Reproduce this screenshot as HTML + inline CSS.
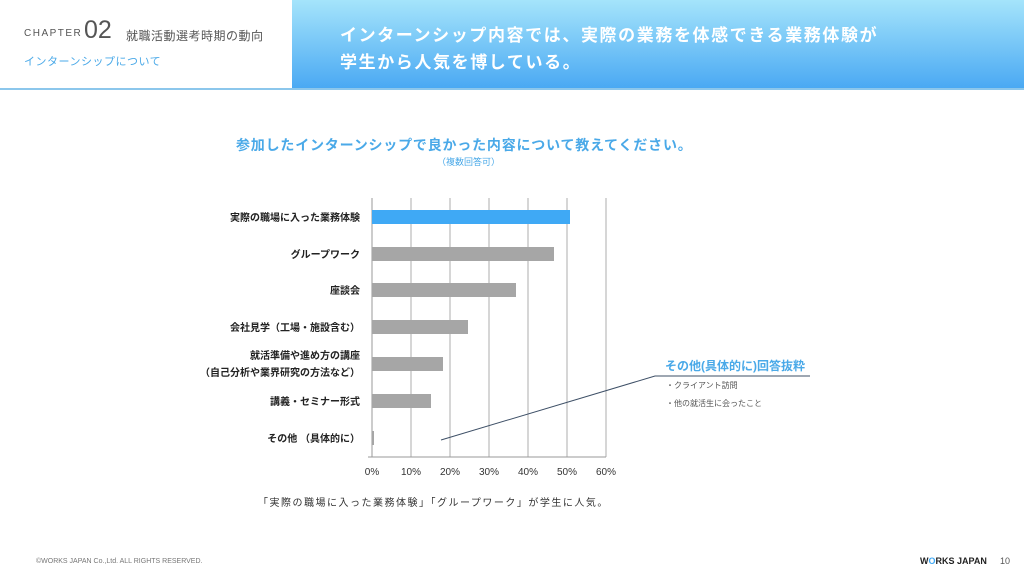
<!DOCTYPE html><html><head><meta charset="utf-8"><style>
body{margin:0;width:1024px;height:576px;background:#fff;position:relative;overflow:hidden;font-family:"Liberation Sans","Noto Sans CJK JP",sans-serif}
.a{position:absolute;white-space:nowrap}
</style></head><body>
<div class="a" style="left:292px;top:0;width:732px;height:88px;background:linear-gradient(180deg,#a5e4fb,#4aa9f3)"></div>
<div class="a" style="left:0;top:88px;width:1024px;height:2px;background:#8cc7ec"></div>
<div class="a" style="left:24px;top:28px;font-size:10px;color:#555;letter-spacing:1.5px">CHAPTER</div>
<div class="a" style="left:84px;top:16px;font-size:25px;color:#555">02</div>
<div class="a" style="left:126px;top:27px;font-size:12px;color:#555;letter-spacing:0.5px">就職活動選考時期の動向</div>
<div class="a" style="left:24px;top:53px;font-size:11px;color:#4aa9e8;letter-spacing:0.5px">インターンシップについて</div>
<div class="a" style="left:340px;top:21px;font-size:17px;color:#fff;font-weight:bold;letter-spacing:1.6px">インターンシップ内容では、実際の業務を体感できる業務体験が</div>
<div class="a" style="left:340px;top:48px;font-size:17px;color:#fff;font-weight:bold;letter-spacing:1.6px">学生から人気を博している。</div>
<div class="a" style="left:236px;top:135px;font-size:14px;color:#4aa9e8;font-weight:bold;letter-spacing:0.8px">参加したインターンシップで良かった内容について教えてください。</div>
<div class="a" style="left:437px;top:155px;font-size:9px;color:#4aa9e8">（複数回答可）</div>
<svg class="a" style="left:0;top:0" width="1024" height="576">
<g stroke="#bbb" stroke-width="1.2">
<line x1="411" y1="198" x2="411" y2="457"/><line x1="450" y1="198" x2="450" y2="457"/><line x1="489" y1="198" x2="489" y2="457"/><line x1="528" y1="198" x2="528" y2="457"/><line x1="567" y1="198" x2="567" y2="457"/><line x1="606" y1="198" x2="606" y2="457"/>
</g>
<g stroke="#999"><line x1="372" y1="198" x2="372" y2="457"/><line x1="368" y1="457" x2="606" y2="457"/></g>
<rect x="372" y="210" width="198" height="14" fill="#3fa9f5"/>
<g fill="#a6a6a6">
<rect x="372" y="247" width="182" height="14"/><rect x="372" y="283" width="144" height="14"/><rect x="372" y="320" width="96" height="14"/><rect x="372" y="357" width="71" height="14"/><rect x="372" y="394" width="59" height="14"/><rect x="372" y="431" width="2" height="14"/>
</g>
<polyline points="441,440 655,376 810,376" fill="none" stroke="#3d4f66" stroke-width="1"/>
<g font-size="10" fill="#333" text-anchor="middle" font-family="Liberation Sans,sans-serif">
<text x="372" y="475">0%</text><text x="411" y="475">10%</text><text x="450" y="475">20%</text><text x="489" y="475">30%</text><text x="528" y="475">40%</text><text x="567" y="475">50%</text><text x="606" y="475">60%</text>
</g>
<g font-size="10" fill="#222" font-weight="bold" text-anchor="end" font-family="Liberation Sans,Noto Sans CJK JP,sans-serif">
<text x="360" y="221">実際の職場に入った業務体験</text><text x="360" y="258">グループワーク</text><text x="360" y="294">座談会</text><text x="360" y="331">会社見学（工場・施設含む）</text><text x="360" y="359">就活準備や進め方の講座</text><text x="360" y="376">（自己分析や業界研究の方法など）</text><text x="360" y="405">講義・セミナー形式</text><text x="360" y="442">その他 （具体的に）</text>
</g>
</svg>
<div class="a" style="left:665px;top:357px;font-size:12px;color:#4aa9e8;font-weight:bold">その他(具体的に)回答抜粋</div>
<div class="a" style="left:666px;top:380px;font-size:8px;color:#555">・クライアント訪問</div>
<div class="a" style="left:666px;top:398px;font-size:8px;color:#555">・他の就活生に会ったこと</div>
<div class="a" style="left:258px;top:494px;font-size:10px;color:#333;letter-spacing:1.5px">「実際の職場に入った業務体験」「グループワーク」が学生に人気。</div>
<div class="a" style="left:36px;top:558px;font-size:7px;color:#777">©WORKS JAPAN Co.,Ltd. ALL RIGHTS RESERVED.</div>
<div class="a" style="left:920px;top:556px;font-size:9px;color:#222;font-weight:bold">W<span style="color:#3fa9f5">O</span>RKS JAPAN</div>
<div class="a" style="left:1000px;top:556px;font-size:9px;color:#555">10</div>
</body></html>
